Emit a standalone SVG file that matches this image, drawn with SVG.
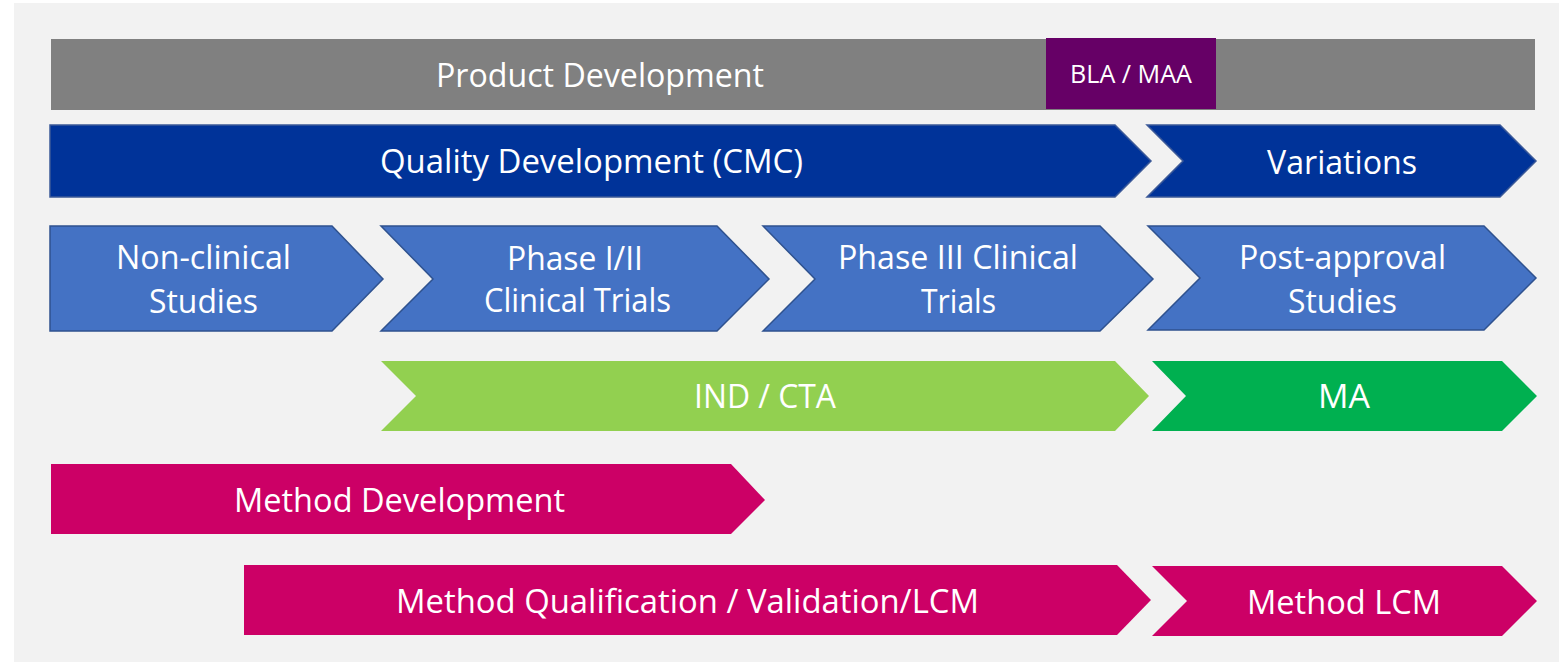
<svg xmlns="http://www.w3.org/2000/svg" width="1559" height="662" viewBox="0 0 1559 662">
  <style>
    .lbl { font-family: "Open Sans", "Liberation Sans", sans-serif; font-size: 33px; fill: #ffffff; text-anchor: middle; }
    .small { font-size: 25px; }
    .dark { fill: #003399; stroke: #3b5998; stroke-width: 1.5; }
    .mid { fill: #4472c4; stroke: #2f528f; stroke-width: 1.5; }
    .lime { fill: #92d050; }
    .green { fill: #00b050; }
    .mag { fill: #cc0066; }
  </style>

  <!-- page background -->
  <rect x="0" y="0" width="1559" height="662" fill="#ffffff"/>
  <rect x="14" y="3" width="1545" height="659" fill="#f2f2f2"/>

  <g id="product-development">
    <rect x="51" y="39" width="1484" height="71" fill="#808080"/>
    <text class="lbl" x="600" y="87" textLength="328" lengthAdjust="spacingAndGlyphs">Product Development</text>
  </g>

  <g id="bla-maa">
    <rect x="1046" y="38" width="170" height="71" fill="#660066"/>
    <text class="lbl small" x="1131" y="83" textLength="122" lengthAdjust="spacingAndGlyphs">BLA / MAA</text>
  </g>

  <g id="quality-development">
    <polygon class="dark" points="50,125 1115,125 1151,161 1115,197 50,197"/>
    <text class="lbl" x="591.5" y="173" textLength="423" lengthAdjust="spacingAndGlyphs">Quality Development (CMC)</text>
  </g>

  <g id="variations">
    <polygon class="dark" points="1147,125 1500,125 1536,161 1500,197 1147,197 1183,161"/>
    <text class="lbl" x="1342" y="174" textLength="150" lengthAdjust="spacingAndGlyphs">Variations</text>
  </g>

  <g id="non-clinical">
    <polygon class="mid" points="50,226 332,226 383,279 332,331 50,331"/>
    <text class="lbl" x="203.5" y="269" textLength="175" lengthAdjust="spacingAndGlyphs">Non-clinical</text>
    <text class="lbl" x="203.5" y="313" textLength="109" lengthAdjust="spacingAndGlyphs">Studies</text>
  </g>

  <g id="phase-1-2">
    <polygon class="mid" points="381,226 717,226 769,279 717,331 381,331 433,279"/>
    <text class="lbl" x="575" y="270" textLength="136" lengthAdjust="spacingAndGlyphs">Phase I/II</text>
    <text class="lbl" x="577.5" y="312" textLength="187" lengthAdjust="spacingAndGlyphs">Clinical Trials</text>
  </g>

  <g id="phase-3">
    <polygon class="mid" points="763,226 1100,226 1153,279 1100,331 763,331 815,279"/>
    <text class="lbl" x="958" y="269" textLength="240" lengthAdjust="spacingAndGlyphs">Phase III Clinical</text>
    <text class="lbl" x="958.5" y="313" textLength="75" lengthAdjust="spacingAndGlyphs">Trials</text>
  </g>

  <g id="post-approval">
    <polygon class="mid" points="1148,226 1484,226 1536,278 1484,330 1148,330 1200,278"/>
    <text class="lbl" x="1342.5" y="269" textLength="207" lengthAdjust="spacingAndGlyphs">Post-approval</text>
    <text class="lbl" x="1342.5" y="313" textLength="109" lengthAdjust="spacingAndGlyphs">Studies</text>
  </g>

  <g id="ind-cta">
    <polygon class="lime" points="381,361 1115,361 1149,396 1115,431 381,431 416,396"/>
    <text class="lbl" x="765" y="408" textLength="142" lengthAdjust="spacingAndGlyphs">IND / CTA</text>
  </g>

  <g id="ma">
    <polygon class="green" points="1152,361 1502,361 1537,396 1502,431 1152,431 1186,396"/>
    <text class="lbl" x="1344" y="408" textLength="52" lengthAdjust="spacingAndGlyphs">MA</text>
  </g>

  <g id="method-development">
    <polygon class="mag" points="51,464 731,464 765,500 731,534 51,534"/>
    <text class="lbl" x="399.5" y="512" textLength="331" lengthAdjust="spacingAndGlyphs">Method Development</text>
  </g>

  <g id="method-qualification">
    <polygon class="mag" points="244,565 1117,565 1151,600 1117,635 244,635"/>
    <text class="lbl" x="687.5" y="613" textLength="583" lengthAdjust="spacingAndGlyphs">Method Qualification / Validation/LCM</text>
  </g>

  <g id="method-lcm">
    <polygon class="mag" points="1152,566 1502,566 1537,601 1502,636 1152,636 1187,601"/>
    <text class="lbl" x="1344" y="614" textLength="194" lengthAdjust="spacingAndGlyphs">Method LCM</text>
  </g>

  <!-- the phases are laid out as adjoining chevrons; no separate connector lines -->
  <g id="connectors"/>
</svg>
